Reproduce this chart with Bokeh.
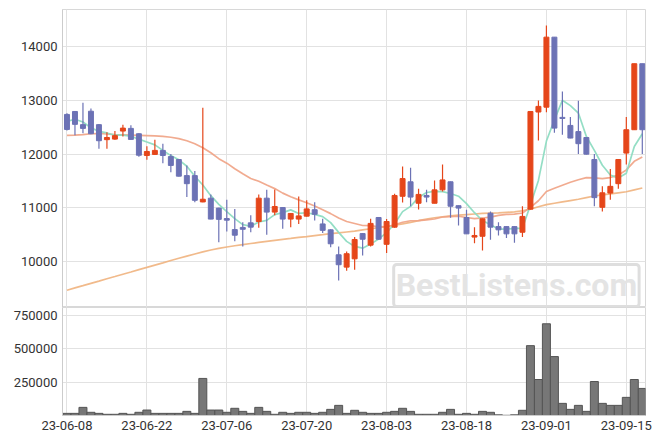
from bokeh.plotting import figure
from bokeh.layouts import column
from bokeh.models import Range1d, FixedTicker, Label, ColumnDataSource, BasicTickFormatter
from bokeh.embed import file_html
from bokeh.resources import INLINE

dates = [
    "23-06-08", "23-06-09", "23-06-12", "23-06-13", "23-06-14", "23-06-15", "23-06-16",
    "23-06-19", "23-06-20", "23-06-21", "23-06-22", "23-06-23", "23-06-26", "23-06-27",
    "23-06-28", "23-06-29", "23-06-30",
    "23-07-03", "23-07-04", "23-07-05", "23-07-06", "23-07-07", "23-07-10", "23-07-11",
    "23-07-12", "23-07-13", "23-07-14", "23-07-17", "23-07-18", "23-07-19", "23-07-20",
    "23-07-21", "23-07-24", "23-07-25", "23-07-26", "23-07-27", "23-07-28", "23-07-31",
    "23-08-01", "23-08-02", "23-08-03", "23-08-04", "23-08-07", "23-08-08", "23-08-09",
    "23-08-10", "23-08-11", "23-08-14", "23-08-16", "23-08-17", "23-08-18", "23-08-21",
    "23-08-22", "23-08-23", "23-08-24", "23-08-25", "23-08-28", "23-08-29", "23-08-30",
    "23-08-31",
    "23-09-01", "23-09-04", "23-09-05", "23-09-06", "23-09-07", "23-09-08", "23-09-11",
    "23-09-12", "23-09-13", "23-09-14", "23-09-15", "23-09-18", "23-09-19",
]

opens = [12740, 12795, 12550, 12800, 12550, 12270, 12280, 12430, 12480, 12380,
         11975, 11995, 12070, 11955, 11900, 11600, 11600, 11110, 11180, 10995,
         10800, 10595, 10635, 10720, 10745, 11180, 10920, 11005, 10790, 10790,
         10845, 10965, 10700, 10590, 10125, 9895, 10050, 10520, 10305, 10820,
         10320, 10640, 11215, 11485, 11085, 11230, 11085, 11335, 11485, 11040,
         10820, 10455, 10470, 10900, 10650, 10650, 10650, 10545, 10975, 12785,
         12875, 14180, 12685, 12535, 12420, 12310, 11900, 11010, 11275, 11450,
         12020, 12455, 13685]
highs = [12760, 12800, 12960, 12850, 12560, 12410, 12430, 12550, 12540, 12390,
         12145, 12270, 12195, 12005, 11910, 11790, 11685, 12865, 11250, 11000,
         11150, 10980, 10730, 10860, 11250, 11335, 11340, 11010, 10900, 11210,
         11140, 11105, 10795, 10600, 10280, 10185, 10455, 10530, 10795, 10830,
         10790, 11260, 11770, 11745, 11355, 11335, 11510, 11805, 11490, 11045,
         10965, 10640, 10800, 10930, 10730, 10655, 10655, 11030, 12800, 13000,
         14395, 14180, 13165, 12690, 12995, 12315, 12005, 11400, 11725, 11905,
         12690, 13685, 13685]
lows = [12440, 12350, 12390, 12370, 12100, 12100, 12270, 12330, 12270, 11950,
        11895, 11990, 11830, 11665, 11585, 11200, 11105, 11105, 10785, 10360,
        10560, 10375, 10280, 10545, 10630, 10500, 10860, 10610, 10640, 10700,
        10840, 10765, 10530, 10265, 9645, 9830, 9845, 10110, 10280, 10410,
        10160, 10630, 11100, 11030, 10970, 11105, 11085, 11305, 10815, 10670,
        10515, 10340, 10205, 10405, 10485, 10440, 10350, 10455, 10970, 12255,
        12780, 12400, 12360, 12295, 12005, 11995, 11030, 10930, 11150, 11355,
        11805, 12455, 12005]
closes = [12460, 12555, 12480, 12380, 12250, 12310, 12345, 12485, 12275, 11980,
          12050, 12070, 11975, 11790, 11590, 11450, 11140, 11160, 10790, 10785,
          10770, 10490, 10600, 10640, 11180, 10920, 11025, 10790, 10895, 10850,
          10980, 10880, 10580, 10330, 9940, 10145, 10410, 10415, 10710, 10415,
          10745, 11230, 11545, 11200, 11250, 11200, 11335, 11520, 11030, 10995,
          10515, 10485, 10795, 10640, 10590, 10515, 10515, 10840, 12795, 12890,
          14180, 12485, 12665, 12300, 12195, 12000, 11190, 11280, 11400, 11900,
          12455, 13685, 12455]
volumes = [16000, 16000, 61000, 24000, 16000, 9000, 9000, 16000, 9000, 24000,
           41000, 16000, 16000, 16000, 16000, 31000, 16000, 278000, 41000, 41000,
           24000, 54000, 31000, 16000, 61000, 31000, 9000, 24000, 16000, 24000,
           24000, 16000, 24000, 46000, 76000, 16000, 39000, 24000, 16000, 16000,
           24000, 31000, 54000, 31000, 9000, 9000, 9000, 24000, 46000, 9000,
           16000, 9000, 31000, 24000, 5000, 1500, 5000, 39000, 524000, 270000,
           688000, 442000, 91000, 46000, 76000, 31000, 255000, 91000, 76000, 76000,
           136000, 270000, 203000]
ma5 = [12610, 12650, 12600, 12490, 12425, 12395, 12353, 12354, 12333, 12279,
       12227, 12172, 12070, 11973, 11895, 11775, 11589, 11426, 11226, 11065,
       10929, 10799, 10687, 10657, 10736, 10766, 10873, 10911, 10962, 10896,
       10908, 10879, 10837, 10724, 10542, 10375, 10281, 10248, 10324, 10419,
       10539, 10703, 10929, 11027, 11194, 11285, 11306, 11301, 11267, 11216,
       11079, 10909, 10764, 10686, 10605, 10605, 10611, 10620, 11051, 11511,
       12244, 12638, 13003, 12904, 12765, 12329, 12070, 11793, 11613, 11554,
       11645, 12144, 12379]
ma20 = [12350, 12355, 12365, 12380, 12385, 12375, 12365, 12360, 12355, 12350,
        12345, 12340, 12330, 12315, 12290, 12250, 12195, 12120, 12025, 11916,
        11832, 11728, 11634, 11547, 11494, 11424, 11358, 11274, 11205, 11148,
        11095, 11035, 10965, 10892, 10810, 10745, 10708, 10671, 10667, 10648,
        10647, 10684, 10731, 10759, 10763, 10777, 10792, 10829, 10836, 10843,
        10820, 10800, 10811, 10826, 10859, 10877, 10882, 10904, 11008, 11132,
        11303, 11366, 11422, 11477, 11524, 11564, 11557, 11545, 11564, 11609,
        11706, 11866, 11949]
ma_long = [9465, 9508, 9550, 9593, 9635, 9678, 9720, 9763, 9805, 9848,
           9890, 9933, 9975, 10018, 10060, 10100, 10140, 10178, 10215, 10243,
           10270, 10293, 10315, 10335, 10355, 10375, 10395, 10413, 10430, 10448,
           10465, 10483, 10500, 10518, 10535, 10550, 10565, 10588, 10610, 10630,
           10650, 10675, 10700, 10730, 10760, 10788, 10815, 10833, 10850, 10863,
           10875, 10885, 10895, 10900, 10905, 10915, 10925, 10945, 10975, 11020,
           11060, 11085, 11110, 11135, 11160, 11190, 11220, 11240, 11260, 11280,
           11300, 11335, 11370]

x_tick_idx = [0, 10, 20, 30, 40, 50, 60, 70]
price_ticks = [10000, 11000, 12000, 13000, 14000]
volume_ticks = [250000, 500000, 750000]

UP = "#e5461a"
DOWN = "#6c72b5"
GRID = "#e2e2e2"
FONT = "Roboto"

idx = list(range(len(dates)))
up_color = [UP if c >= o else DOWN for o, c in zip(opens, closes)]
body_top = [max(o, c) for o, c in zip(opens, closes)]
body_bot = [min(o, c) for o, c in zip(opens, closes)]
src = ColumnDataSource(dict(x=idx, o=opens, h=highs, l=lows, c=closes, v=volumes,
                            top=body_top, bot=body_bot, col=up_color,
                            ma5=ma5, ma20=ma20, mal=ma_long))

xr = Range1d(-0.56, 72.4)


def style(p):
    p.outline_line_color = "#d8d8d8"
    p.background_fill_color = "white"
    p.border_fill_color = "white"
    p.xgrid.grid_line_color = GRID
    p.ygrid.grid_line_color = GRID
    p.xaxis.ticker = FixedTicker(ticks=x_tick_idx)
    p.yaxis.formatter = BasicTickFormatter(use_scientific=False)
    for ax in p.axis:
        ax.axis_line_color = "#cccccc"
        ax.major_tick_line_color = None
        ax.minor_tick_line_color = None
        ax.major_tick_out = 0
        ax.major_tick_in = 0
        ax.minor_tick_out = 0
        ax.minor_tick_in = 0
        ax.major_label_text_font = FONT
        ax.major_label_text_font_size = "13px"
        ax.major_label_text_color = "#333333"
        ax.major_label_standoff = 5


p = figure(frame_width=583, frame_height=298, x_range=xr, y_range=Range1d(9143, 14695),
           output_backend="svg", toolbar_location=None,
           min_border_left=62, min_border_right=12, min_border_top=9, min_border_bottom=0)
style(p)
p.xaxis.visible = False
p.yaxis.ticker = FixedTicker(ticks=price_ticks)

p.line("x", "mal", source=src, line_color="#f0b27e", line_width=1.7, line_alpha=0.9)
p.line("x", "ma20", source=src, line_color="#f0a284", line_width=1.7, line_alpha=0.9)
p.line("x", "ma5", source=src, line_color="#8edcc2", line_width=1.7, line_alpha=0.95)
p.segment("x", "h", "x", "l", source=src, line_color="col", line_width=1.2)
p.vbar(x="x", top="top", bottom="bot", width=0.62, source=src,
       fill_color="col", line_color="col", line_width=1)

wm = Label(x=71.6, y=9553, text="BestListens.com", text_align="right",
           text_baseline="middle", text_font=FONT, text_font_size="32px",
           text_font_style="bold", text_color="#e4e4e4",
           border_line_color="#dedede", border_line_width=3, padding=2,
           border_radius=3)
p.add_layout(wm)

pv = figure(frame_width=583, frame_height=108, x_range=xr, y_range=Range1d(0, 810000),
            output_backend="svg", toolbar_location=None,
            min_border_left=62, min_border_right=12, min_border_top=0, min_border_bottom=0)
style(pv)
pv.yaxis.ticker = FixedTicker(ticks=volume_ticks)
pv.xaxis.major_label_overrides = {i: dates[i] for i in x_tick_idx}
pv.vbar(x="x", top="v", bottom=0, width=1.0, source=src,
        fill_color="#777777", line_color="#555555", line_width=1)

layout = column(p, pv, spacing=0)
open("out.html", "w").write(file_html(layout, INLINE))
